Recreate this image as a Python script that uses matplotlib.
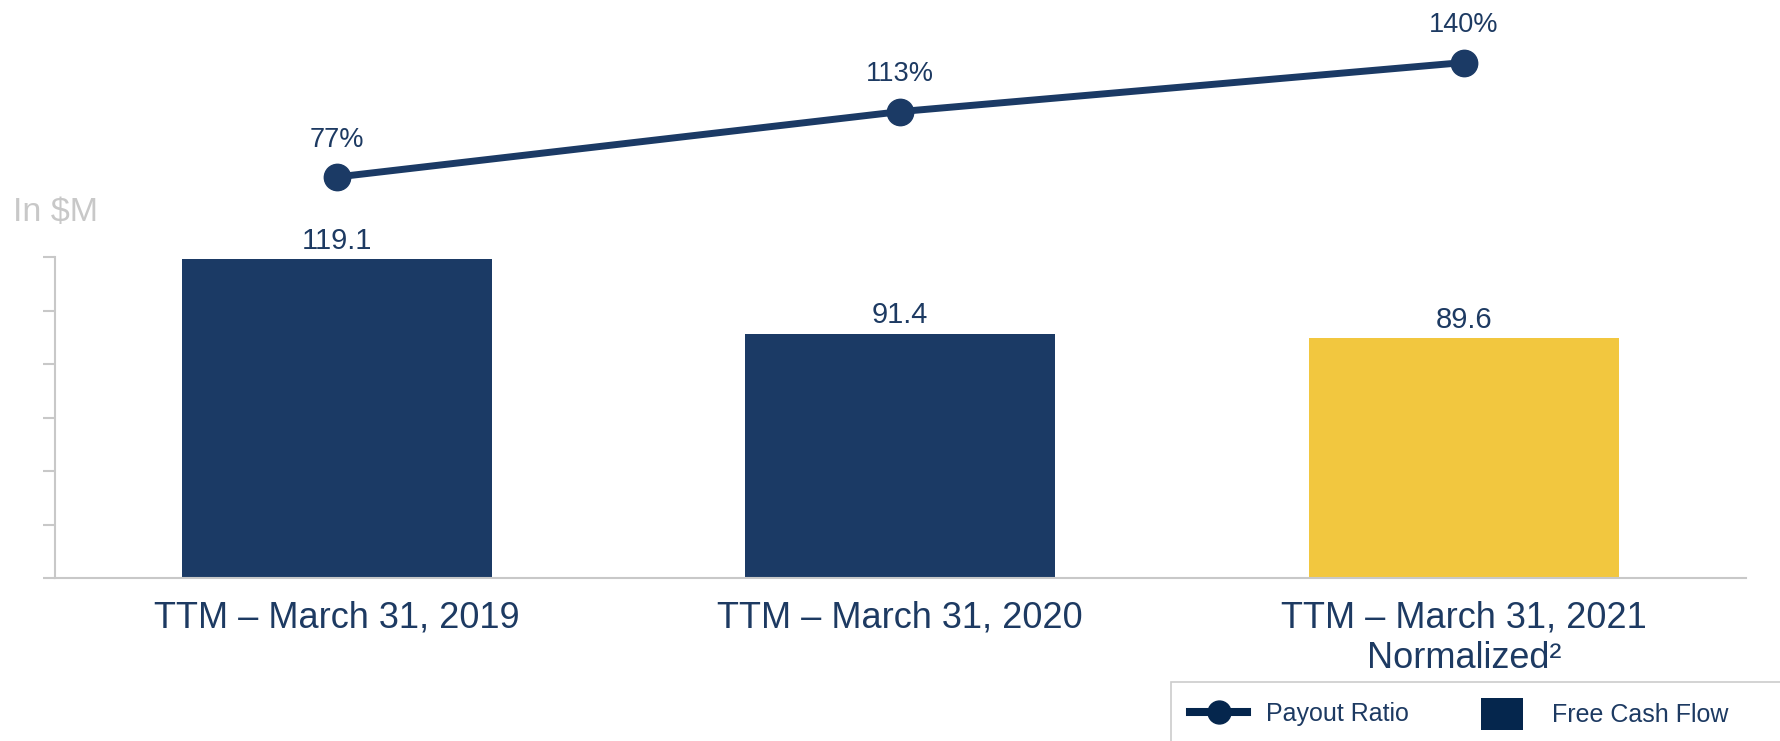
import matplotlib
matplotlib.use("Agg")
import matplotlib.pyplot as plt
from matplotlib.lines import Line2D
from matplotlib.patches import Patch, Rectangle

plt.rcParams['font.family'] = ['Liberation Sans', 'DejaVu Sans']

# ---- data ----
categories = ["TTM \u2013 March 31, 2019", "TTM \u2013 March 31, 2020",
              "TTM \u2013 March 31, 2021\nNormalized\u00b2"]
free_cash_flow = [119.1, 91.4, 89.6]
fcf_labels = ["119.1", "91.4", "89.6"]
payout_ratio = [77, 113, 140]
payout_labels = ["77%", "113%", "140%"]
y_ticks = [0, 20, 40, 60, 80, 100, 120]

# ---- styles ----
NAVY = "#1b3a65"
DARK = "#05264d"
YELLOW = "#f2c73f"
TEXT = "#1d3a62"
GRAY = "#c8c8c8"
bar_colors = [NAVY, NAVY, YELLOW]

W, H = 1781, 741
fig = plt.figure(figsize=(W / 100, H / 100), dpi=100)
ax = fig.add_axes([55 / W, (H - 578) / H, (1745.6 - 55) / W, 321 / H])

x = list(range(len(categories)))
ax.bar(x, free_cash_flow, width=0.55, color=bar_colors, zorder=2)
ax.set_xlim(-0.5, 2.5)
ax.set_ylim(0, 120)
ax.set_yticks(y_ticks)
ax.set_yticklabels([])
ax.tick_params(axis='y', length=8.6, width=1.5, color=GRAY, direction='out')
ax.set_xticks(x)
ax.set_xticklabels(categories, fontsize=26, color=TEXT)
ax.tick_params(axis='x', length=0, pad=16)
for s in ("top", "right"):
    ax.spines[s].set_visible(False)
for s in ("left", "bottom"):
    ax.spines[s].set_color(GRAY)
    ax.spines[s].set_linewidth(1.5)

for xi, v, lab in zip(x, free_cash_flow, fcf_labels):
    ax.annotate(lab, (xi, v), xytext=(0, 13), textcoords="offset points",
                ha="center", va="center", fontsize=21, color=TEXT)

fig.text(13 / W, (H - 212) / H, "In $M", fontsize=24.5, color=GRAY,
         ha="left", va="center")

# payout ratio on a hidden secondary axis
ax2 = ax.twinx()
ax2.set_ylim(-143.6, 33.0)
ax2.axis("off")
ax2.plot(x, payout_ratio, color=NAVY, lw=5, marker="o", markersize=19,
         clip_on=False, zorder=3)
for xi, v, lab in zip(x, payout_ratio, payout_labels):
    ax2.annotate(lab, (xi, v), xytext=(0, 27), textcoords="offset points",
                 ha="center", va="center", fontsize=19.5, color=TEXT,
                 annotation_clip=False)

# legend box
fig.patches.append(Rectangle((1171 / W, -0.2), 1.0, 0.2 + (H - 682) / H,
                             transform=fig.transFigure, facecolor="white",
                             edgecolor="#cccccc", lw=1.2, zorder=0))

h1 = Line2D([], [], color=DARK, lw=5.8, marker="o", markersize=16.5)
fig.legend([h1], ["Payout Ratio"], loc="center left",
           bbox_to_anchor=(1190 / W, (H - 714) / H), frameon=False,
           fontsize=18, handlelength=2.3, handletextpad=0.75,
           borderpad=0, borderaxespad=0, labelcolor=TEXT)
h2 = Patch(facecolor=DARK, edgecolor="none")
fig.legend([h2], ["Free Cash Flow"], loc="center left",
           bbox_to_anchor=(1481 / W, (H - 714) / H), frameon=False,
           fontsize=18, handlelength=1.7, handleheight=1.6,
           handletextpad=1.15, borderpad=0, borderaxespad=0,
           labelcolor=TEXT)

fig.savefig("out.png", dpi=100)
